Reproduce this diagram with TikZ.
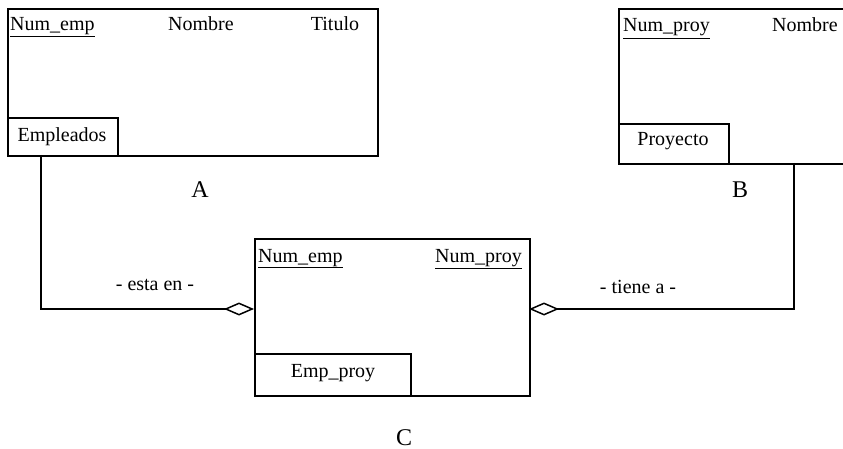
\documentclass[tikz,border=0pt]{standalone}
\usepackage{fontspec}
\setmainfont{Liberation Serif}
\usetikzlibrary{arrows.meta}
\begin{document}
\begin{tikzpicture}[x=1pt,y=-1pt,
  entity/.style={draw, line width=2.3pt, inner sep=0pt, anchor=north west},
  tag/.style={draw, line width=2pt, inner sep=0pt, anchor=south west},
  attr/.style={inner sep=0pt, font=\fontsize{20}{23}\selectfont},
  caption/.style={inner sep=0pt, anchor=base, font=\fontsize{24}{27}\selectfont},
  role/.style={inner sep=0pt, font=\fontsize{20}{23}\selectfont},
  link/.style={line width=2.1pt,
    -{Diamond[open, length=30pt, width=13pt, line width=1.5pt]}}]
\useasboundingbox (0,0) rectangle (843,449);
\begin{scope}
\clip (0,0) rectangle (843,449);

% Empleados
\node[entity, minimum width=370pt, minimum height=147pt] (A) at (7,8) {};
\node[tag, minimum width=110pt, minimum height=38pt] (Atag) at (A.south west) {};
\node[attr, anchor=base] (Atagtxt) at (62,142) {Empleados};
\node[attr, anchor=base west] (Anum) at (10,31) {\underline{Num\_emp}};
\node[attr, anchor=base] (Anom) at (201,31) {Nombre};
\node[attr, anchor=base] (Atit) at (335,31) {Titulo};

% Proyecto (runs past the right edge)
\node[entity, minimum width=340pt, minimum height=155pt] (B) at (618,8) {};
\node[tag, minimum width=110pt, minimum height=40pt] (Btag) at (B.south west) {};
\node[attr, anchor=base] (Btagtxt) at (673,146) {Proyecto};
\node[attr, anchor=base west] (Bnum) at (623,32) {\underline{Num\_proy}};
\node[attr, anchor=base west] (Bnom) at (772,32) {Nombre};
\end{scope}

% Emp_proy
\node[entity, minimum width=275pt, minimum height=157pt] (C) at (254,238) {};
\node[tag, minimum width=156pt, minimum height=42pt] (Ctag) at (C.south west) {};
\node[attr, anchor=base] (Ctagtxt) at (333,377) {Emp\_proy};
\node[attr, anchor=base west] (Cemp) at (258,262) {\underline{Num\_emp}};
\node[attr, anchor=base east] (Cproy) at (522,262) {\underline{Num\_proy}};

% captions
\node[caption] (capA) at (200,198) {A};
\node[caption] (capB) at (740,198) {B};
\node[caption] (capC) at (404,445) {C};

% connectors
\coordinate (aout) at (41,155);
\coordinate (bout) at (794,163);
\coordinate (cin) at (254,309);
\coordinate (cout) at (529,309);
\draw[link] (aout) |- (cin);
\draw[link] (bout) |- (cout);
\node[role] (r1) at (155,285) {- esta en -};
\node[role] (r2) at (638,287) {- tiene a -};
\end{tikzpicture}
\end{document}
